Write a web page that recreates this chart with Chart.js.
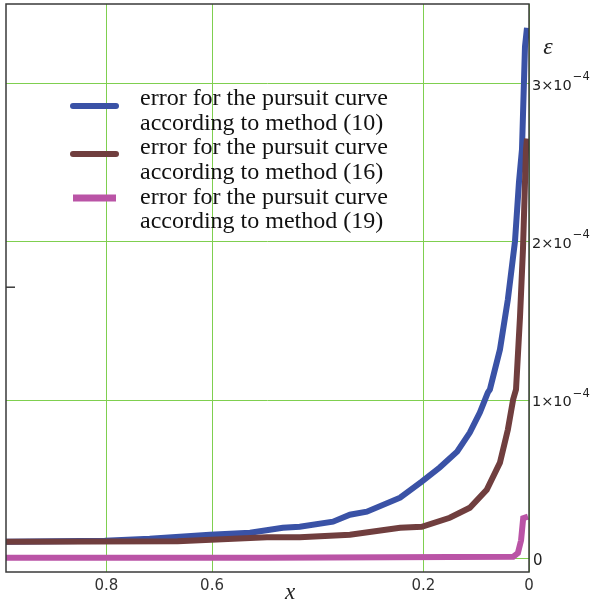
<!DOCTYPE html>
<html>
<head>
<meta charset="utf-8">
<script src="https://cdn.jsdelivr.net/npm/chart.js@4.4.0/dist/chart.umd.min.js"></script>
<style>
  html, body { margin: 0; padding: 0; background: #fff; }
  #wrap { width: 590px; height: 602px; }
</style>
</head>
<body>
<div id="wrap"><canvas id="errChart"></canvas></div>
<script>
// values (x goes from 1 down to 0)
const method10X = [0.99, 0.803, 0.718, 0.604, 0.528, 0.466, 0.434, 0.371, 0.339, 0.307, 0.244, 0.203, 0.169, 0.136, 0.112, 0.093, 0.078, 0.074, 0.055, 0.040, 0.0265, 0.019, 0.0133, 0.0076, 0.0038];
const method10Err = [1.01e-5, 1.08e-5, 1.2e-5, 1.46e-5, 1.58e-5, 1.9e-5, 1.96e-5, 2.28e-5, 2.72e-5, 2.91e-5, 3.8e-5, 4.81e-5, 5.7e-5, 6.71e-5, 7.91e-5, 9.18e-5, 1.044e-4, 1.063e-4, 1.316e-4, 1.633e-4, 2.0e-4, 2.373e-4, 2.58e-4, 3.23e-4, 3.35e-4];

const method16X = [0.99, 0.665, 0.496, 0.434, 0.339, 0.244, 0.203, 0.15, 0.112, 0.08, 0.055, 0.040, 0.030, 0.0246, 0.017, 0.0114, 0.0076, 0.0057, 0.0038];
const method16Err = [1.01e-5, 1.05e-5, 1.3e-5, 1.3e-5, 1.46e-5, 1.9e-5, 1.96e-5, 2.53e-5, 3.16e-5, 4.3e-5, 6.01e-5, 8.1e-5, 1.0e-4, 1.063e-4, 1.525e-4, 1.95e-4, 2.37e-4, 2.58e-4, 2.65e-4];

const method19X = [0.99, 0.5, 0.030, 0.021, 0.015, 0.011, 0.002];
const method19Err = [0, 0, 6e-7, 3e-6, 1.1e-5, 2.5e-5, 2.6e-5];

const seriesNames = [
  ['error for the pursuit curve', 'according to method (10)'],
  ['error for the pursuit curve', 'according to method (16)'],
  ['error for the pursuit curve', 'according to method (19)']
];
const xTicks = [0.8, 0.6, 0.2, 0];
const yTicks = [0, 1e-4, 2e-4, 3e-4];
const leftMarkValue = 1.71e-4;

const colors = {
  blue: 'rgb(58, 82, 166)',
  brown: 'rgb(112, 62, 62)',
  pink: 'rgb(186, 84, 166)',
  grid: '#7fcf4f',
  frame: '#3a3a3a'
};

function toPoints(xs, ys) {
  return xs.map((x, i) => ({ x: x, y: ys[i] }));
}

// green grid drawn crisp on whole pixels
const gridLines = {
  id: 'gridLines',
  beforeDatasetsDraw(chart) {
    const ctx = chart.ctx;
    const a = chart.chartArea;
    ctx.save();
    ctx.strokeStyle = colors.grid;
    ctx.lineWidth = 1;
    ctx.beginPath();
    xTicks.forEach(v => {
      const px = Math.round(chart.scales.x.getPixelForValue(v)) + 0.5;
      ctx.moveTo(px, a.top);
      ctx.lineTo(px, a.bottom);
    });
    yTicks.forEach(v => {
      const py = Math.round(chart.scales.y.getPixelForValue(v)) + 0.5;
      ctx.moveTo(a.left, py);
      ctx.lineTo(a.right, py);
    });
    ctx.stroke();
    ctx.restore();
  }
};

// frame, y labels, legend and axis names
const decor = {
  id: 'decor',
  afterDatasetsDraw(chart) {
    const ctx = chart.ctx;
    const a = chart.chartArea;
    const ys = chart.scales.y;
    ctx.save();
    ctx.strokeStyle = colors.frame;
    ctx.lineWidth = 1.5;
    ctx.strokeRect(a.left, a.top, a.right - a.left, a.bottom - a.top);

    // little mark on the left edge
    let my = ys.getPixelForValue(leftMarkValue);
    ctx.beginPath();
    ctx.moveTo(a.left, my);
    ctx.lineTo(a.left + 9, my);
    ctx.stroke();

    // y tick labels like 3x10^-4
    ctx.fillStyle = '#222';
    ctx.textBaseline = 'middle';
    ctx.textAlign = 'left';
    yTicks.forEach(v => {
      const py = ys.getPixelForValue(v) + 3;
      const x0 = a.right + 3;
      if (v === 0) {
        ctx.font = '15px "DejaVu Sans"';
        ctx.fillText('0', x0 + 1, py);
        return;
      }
      const exp = Math.floor(Math.log10(v) + 1e-9);
      const mant = Math.round(v / Math.pow(10, exp));
      ctx.font = '14.5px "DejaVu Sans"';
      const main = mant + '\u00d710';
      ctx.fillText(main, x0, py);
      const w = ctx.measureText(main).width;
      ctx.font = '11.5px "DejaVu Sans"';
      ctx.fillText('\u2212' + Math.abs(exp), x0 + w + 1, py - 9);
    });

    // axis names
    ctx.fillStyle = '#222';
    ctx.font = 'italic 24px "Liberation Serif"';
    ctx.textAlign = 'center';
    ctx.fillText('\u03b5', a.right + 19, a.top + 44);
    ctx.font = 'italic 23px "Liberation Serif"';
    ctx.fillText('x', 290, a.bottom + 21);

    // legend
    const lineColors = [colors.blue, colors.brown, colors.pink];
    const sampleY = [102, 150, 194];
    const lineH = 24.6;
    ctx.font = '24px "Liberation Serif"';
    ctx.textAlign = 'left';
    ctx.fillStyle = '#111';
    let ty = a.top + 95;
    seriesNames.forEach((lines, i) => {
      ctx.strokeStyle = lineColors[i];
      ctx.lineWidth = i === 2 ? 7 : 6;
      ctx.lineCap = i === 2 ? 'butt' : 'round';
      ctx.beginPath();
      ctx.moveTo(a.left + 67, a.top + sampleY[i]);
      ctx.lineTo(a.left + 110, a.top + sampleY[i]);
      ctx.stroke();
      lines.forEach(t => {
        ctx.fillText(t, a.left + 134, ty);
        ty += lineH;
      });
    });
    ctx.restore();
  }
};

const ctx = document.getElementById('errChart');
const chart = new Chart(ctx, {
  type: 'line',
  data: {
    datasets: [
      {
        label: seriesNames[0].join(' '),
        data: toPoints(method10X, method10Err),
        borderColor: colors.blue,
        borderWidth: 6,
        pointRadius: 0,
        order: 2
      },
      {
        label: seriesNames[1].join(' '),
        data: toPoints(method16X, method16Err),
        borderColor: colors.brown,
        borderWidth: 6,
        pointRadius: 0,
        order: 1
      },
      {
        label: seriesNames[2].join(' '),
        data: toPoints(method19X, method19Err),
        borderColor: colors.pink,
        borderWidth: 6,
        pointRadius: 0,
        order: 0
      }
    ]
  },
  options: {
    responsive: true,
    maintainAspectRatio: false,
    animation: false,
    devicePixelRatio: 1,
    layout: { padding: { left: 6, top: 4, right: 0, bottom: 0 } },
    plugins: {
      legend: { display: false },
      tooltip: { enabled: false }
    },
    scales: {
      x: {
        type: 'linear',
        reverse: true,
        min: 0,
        max: 0.99,
        border: { display: false },
        grid: { display: false, drawTicks: false },
        afterBuildTicks: s => { s.ticks = xTicks.map(v => ({ value: v })); },
        afterFit: s => { s.height = 30; },
        ticks: {
          padding: 5,
          color: '#333',
          font: { family: '"DejaVu Sans"', size: 15 },
          maxRotation: 0,
          callback: v => String(v)
        }
      },
      y: {
        type: 'linear',
        position: 'right',
        min: -9e-6,
        max: 3.5e-4,
        border: { display: false },
        grid: { display: false, drawTicks: false },
        afterBuildTicks: s => { s.ticks = yTicks.map(v => ({ value: v })); },
        afterFit: s => { s.width = 61; },
        ticks: { display: false }
      }
    }
  },
  plugins: [gridLines, decor]
});
</script>
</body>
</html>
